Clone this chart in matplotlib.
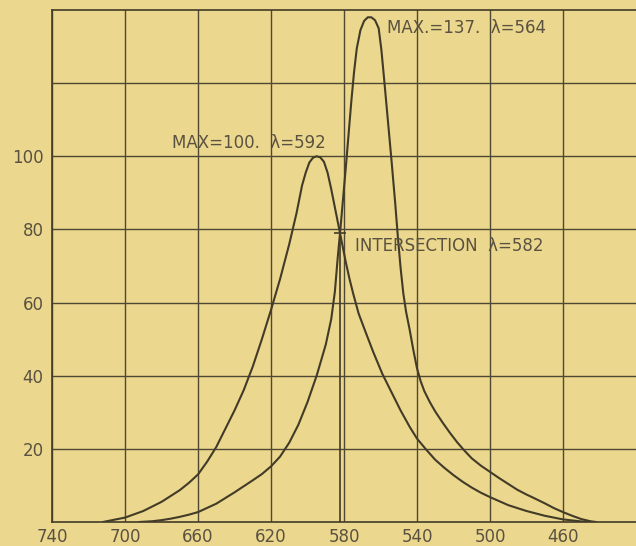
import matplotlib.pyplot as plt

# Krzywa 1: maksimum 100 przy ok. 592 nm
wl_a = [712, 700, 690, 680, 670, 665, 660, 655, 650, 640, 635, 630, 625,
        620, 615, 610, 606, 603, 601, 599, 597, 595, 593, 591, 589, 587,
        585, 583, 581, 579, 577, 575, 572, 568, 564, 559, 554, 549, 544,
        540, 535, 530, 525, 520, 515, 510, 505, 500, 490, 480, 470, 460,
        450, 446]
val_a = [0, 1.2, 3, 5.5, 8.7, 10.7, 13, 16.5, 20.5, 30.5, 36, 42.5, 50,
         58, 66.5, 76, 84.5, 92, 95.5, 98.3, 99.6, 100, 99.7, 98.5, 95.5, 91,
         86, 81, 76, 71, 66.5, 62.5, 57, 51.7, 46.5, 40.5, 35.5, 30.5, 26,
         22.8, 19.8, 17, 14.8, 12.8, 11, 9.4, 8, 6.8, 4.6, 3, 1.7, 0.7,
         0.15, 0]

# Krzywa 2: maksimum 137 przy ok. 564 nm
wl_b = [692, 685, 680, 675, 670, 665, 660, 650, 640, 630, 625, 620, 615,
        610, 605, 600, 595, 590, 587, 585, 583.5, 582, 580.5, 579, 577.5,
        576, 574.5, 573, 571, 569, 567, 565, 563, 561, 559.5, 558, 556,
        554, 552, 550.5, 549, 547.5, 546, 544, 542, 540, 538, 536, 533,
        530, 526, 522, 518, 514, 510, 505, 500, 495, 490, 485, 480, 477,
        470, 465, 460, 455, 450, 445, 442]
val_b = [0, 0.2, 0.5, 0.9, 1.4, 2, 2.7, 5, 8.1, 11.4, 13.1, 15.2, 17.9,
         21.7, 26.6, 32.8, 40, 48.5, 55.5, 63, 72, 80, 88.5, 97, 106,
         115, 123, 129.5, 134.5, 137, 138, 138, 137.2, 135, 129, 121, 110,
         99, 87.5, 78, 69.5, 62.5, 57.5, 52.5, 47, 42, 38.5, 35.8, 32.8,
         30.2, 27.2, 24.4, 21.8, 19.5, 17.4, 15.4, 13.7, 12, 10.4, 8.8, 7.5, 6.8,
         5.1, 3.8, 2.7, 1.7, 0.8, 0.2, 0]

intersection_wl = 582.2
intersection_val = 79

x_ticks = [740, 700, 660, 620, 580, 540, 500, 460]
y_ticks = [20, 40, 60, 80, 100, 120]
y_labels = ['20', '40', '60', '80', '100', '']

paper = '#ebd78e'
ink = '#423b27'
text_col = '#5a5240'

fig = plt.figure(figsize=(6.36, 5.46), dpi=100, facecolor=paper)
ax = fig.add_axes([0.0818, 0.044, 0.9182, 0.9377], facecolor=paper)

ax.plot(wl_a, val_a, color=ink, lw=1.5, zorder=3)
ax.plot(wl_b, val_b, color=ink, lw=1.5, zorder=3)

# linia przeciecia
ax.plot([intersection_wl, intersection_wl], [0, intersection_val],
        color=ink, lw=1.2, zorder=3)
ax.plot([intersection_wl], [intersection_val], marker='_', markersize=8,
        color=ink, mew=1.2, zorder=3)

ax.set_xlim(740, 420)
ax.set_ylim(0, 140)
ax.set_xticks(x_ticks)
ax.set_yticks(y_ticks)
ax.set_yticklabels(y_labels)
ax.tick_params(length=0, labelsize=12, labelcolor=text_col)
ax.tick_params(axis='y', pad=6)
ax.tick_params(axis='x', pad=4)
ax.grid(True, color='#4f4833', lw=1.0)

for side in ['left', 'bottom', 'top']:
    ax.spines[side].set_color(ink)
    ax.spines[side].set_linewidth(1.2)
ax.spines['right'].set_visible(False)

# opisy
ax.text(674.5, 103.5, 'MAX=100.  λ=592', fontsize=12, color=text_col,
        ha='left', va='center')
ax.text(556.5, 135, 'MAX.=137.  λ=564', fontsize=12, color=text_col,
        ha='left', va='center')
ax.text(574, 75.5, 'INTERSECTION  λ=582', fontsize=12, color=text_col,
        ha='left', va='center')

plt.savefig('out.png', dpi=100, facecolor=paper)
